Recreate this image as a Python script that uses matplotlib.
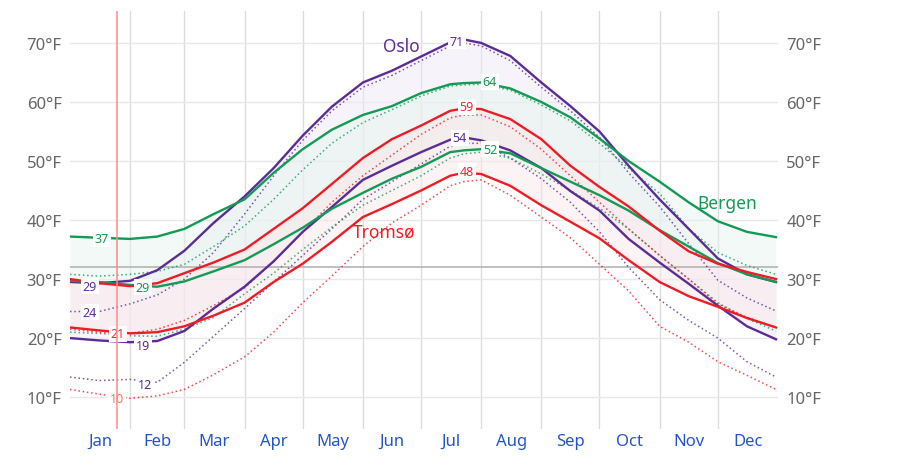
import numpy as np
import matplotlib
matplotlib.use('agg')
import matplotlib.pyplot as plt

plt.rcParams['font.family'] = ['Noto Sans', 'DejaVu Sans']

# day of year (0 = Jan 1) at which the values were read
days = [0, 15, 31, 45, 59, 74, 90, 105, 120, 135, 151, 166, 181, 196, 203, 212,
        227, 243, 258, 273, 288, 304, 319, 334, 349, 364]

# Oslo
oslo_high = [29.5, 29.3, 29.7, 31.5, 34.8, 39.5, 44.0, 48.8, 54.3, 59.2, 63.3, 65.3, 67.7,
             70.1, 70.6, 70.0, 67.8, 63.3, 59.3, 55.0, 49.2, 43.5, 38.5, 33.5, 30.8, 29.5]
oslo_low = [20.0, 19.6, 19.3, 19.5, 21.2, 25.0, 28.7, 33.0, 38.0, 42.2, 46.8, 49.2, 51.5,
            53.6, 54.0, 53.5, 51.8, 48.8, 44.9, 41.6, 36.8, 32.8, 29.2, 25.5, 22.0, 19.8]
oslo_feel_high = [24.5, 24.5, 25.8, 27.3, 30.0, 34.5, 41.0, 47.5, 53.5, 58.5, 62.5, 64.5, 67.0,
                  69.5, 70.0, 69.5, 67.0, 62.5, 58.5, 54.0, 48.0, 42.3, 36.0, 29.8, 26.8, 24.6]
oslo_feel_low = [13.4, 12.8, 13.0, 12.5, 15.9, 20.3, 25.0, 29.5, 34.0, 38.5, 43.5, 46.5, 49.5,
                 52.5, 53.0, 53.0, 50.5, 47.0, 43.0, 38.0, 32.0, 26.5, 23.0, 20.0, 16.0, 13.4]

# Bergen
bergen_high = [37.2, 37.0, 36.8, 37.2, 38.5, 41.0, 43.5, 48.0, 52.0, 55.3, 57.8, 59.3, 61.5,
               63.0, 63.2, 63.3, 62.3, 60.0, 57.4, 53.8, 50.0, 46.5, 43.0, 39.8, 38.0, 37.1]
bergen_low = [29.7, 29.5, 29.0, 28.7, 29.6, 31.3, 33.2, 35.9, 38.7, 41.9, 44.6, 47.0, 49.0,
              51.5, 51.8, 52.0, 51.3, 48.8, 46.5, 44.2, 41.6, 38.3, 35.5, 32.7, 30.8, 29.5]
bergen_feel_high = [30.8, 30.5, 30.8, 31.3, 32.5, 35.5, 39.0, 43.5, 48.5, 53.0, 56.5, 58.7, 61.0,
                    62.7, 62.9, 63.0, 62.0, 59.5, 56.8, 53.0, 48.8, 44.5, 38.5, 34.5, 32.3, 30.8]
bergen_feel_low = [21.0, 20.8, 20.4, 20.3, 21.5, 23.5, 27.5, 31.0, 35.0, 38.8, 42.5, 45.0, 47.5,
                   50.5, 51.2, 51.5, 50.5, 47.8, 45.0, 42.0, 38.5, 34.0, 30.0, 26.0, 23.3, 21.2]

# Tromsø
tromso_high = [30.0, 29.3, 28.8, 29.3, 31.0, 32.8, 35.0, 38.5, 42.0, 46.1, 50.5, 53.7, 56.0,
               58.5, 58.9, 58.8, 57.1, 53.7, 49.2, 45.6, 42.3, 38.2, 34.7, 32.6, 31.2, 30.0]
tromso_low = [21.8, 21.3, 20.8, 21.0, 22.0, 23.8, 26.0, 29.5, 32.6, 36.3, 40.5, 42.7, 45.0,
              47.5, 48.0, 47.8, 45.8, 42.5, 39.7, 36.9, 33.2, 29.5, 27.1, 25.3, 23.4, 21.8]
tromso_feel_high = [21.5, 21.0, 20.8, 21.5, 23.0, 25.5, 28.5, 33.0, 38.0, 43.0, 47.5, 51.0, 54.5,
                    57.3, 57.8, 57.8, 55.8, 52.0, 47.5, 43.0, 38.5, 34.0, 30.0, 25.8, 23.5, 21.8]
tromso_feel_low = [11.3, 10.5, 9.8, 10.2, 11.3, 13.8, 16.8, 21.0, 26.0, 30.5, 35.5, 39.5, 42.5,
                   45.8, 46.5, 46.8, 44.2, 40.5, 37.0, 32.5, 28.0, 22.0, 19.3, 16.0, 13.7, 11.3]

months = ['Jan', 'Feb', 'Mar', 'Apr', 'May', 'Jun', 'Jul', 'Aug', 'Sep', 'Oct', 'Nov', 'Dec']
month_starts = [0, 31, 59, 90, 120, 151, 181, 212, 243, 273, 304, 334, 365]

# value labels: text, day, temp, colour
value_labels = [('71', 199.5, 70.3, '#5b2d94'), ('64', 216.5, 63.4, '#139a55'),
                ('59', 204.6, 59.2, '#ee2a2f'), ('54', 201, 53.9, '#5b2d94'),
                ('52', 216.5, 52.0, '#139a55'), ('48', 204.6, 48.3, '#ee2a2f'),
                ('37', 16.5, 36.8, '#139a55'), ('29', 10.3, 28.8, '#5b2d94'),
                ('29', 37.6, 28.6, '#139a55'), ('24', 10.3, 24.4, '#5b2d94'),
                ('21', 24.7, 20.7, '#ee2a2f'), ('19', 37.6, 18.8, '#5b2d94'),
                ('12', 38.7, 12.2, '#5b2d94'), ('10', 24.2, 9.7, '#f5794f')]

today = 24.2

cities = [
    ('Oslo', '#5b2d94', '#efeaf7', oslo_high, oslo_low, oslo_feel_high, oslo_feel_low, (171, 69.4)),
    ('Bergen', '#139a55', '#e6f4ee', bergen_high, bergen_low, bergen_feel_high, bergen_feel_low, (338.7, 42.9)),
    ('Tromsø', '#ee1c24', '#fbe8ea', tromso_high, tromso_low, tromso_feel_high, tromso_feel_low, (162, 38.1)),
]

fig = plt.figure(figsize=(9.03, 4.60), dpi=100)
ax = fig.add_axes([0.0775, 0.065, 0.784, 0.909])

x = np.array(days)

for name, col, fill, hi, lo, fhi, flo, pos in cities:
    ax.fill_between(x, lo, hi, color=fill, alpha=0.5, lw=0, zorder=1)

for name, col, fill, hi, lo, fhi, flo, pos in cities:
    ax.plot(x, fhi, color=col, lw=1.1, ls=(0, (1, 1.8)), alpha=0.8, zorder=3)
    ax.plot(x, flo, color=col, lw=1.1, ls=(0, (1, 1.8)), alpha=0.8, zorder=3)

for name, col, fill, hi, lo, fhi, flo, pos in cities:
    ax.plot(x, hi, color=col, lw=1.7, zorder=4)
    ax.plot(x, lo, color=col, lw=1.7, zorder=4)
    ax.text(pos[0], pos[1], name, color=col, fontsize=12.5, ha='center', va='center', zorder=6)

for txt, d, t, col in value_labels:
    ax.text(d, t, txt, color=col, fontsize=9, ha='center', va='center', zorder=5,
            bbox=dict(facecolor='white', edgecolor='none', pad=1.2))

# freezing line and today marker
ax.axhline(32, color='#b4b4b4', lw=1.2, zorder=2)
ax.axvline(today, color='#ff8a8a', lw=1.1, zorder=5)

for m in month_starts[1:-1]:
    ax.axvline(m, color='#dcdcdc', lw=1, zorder=0)
ax.yaxis.grid(True, color='#e8e8e8', lw=1)
ax.set_axisbelow(True)

ax.set_xlim(0, 365)
ax.set_ylim(4.58, 75.42)
ax.set_yticks([10, 20, 30, 40, 50, 60, 70])
ax.set_yticklabels([f'{v}°F' for v in [10, 20, 30, 40, 50, 60, 70]])
ax.tick_params(axis='y', length=0, labelsize=12, labelcolor='#666666', pad=6,
               labelleft=True, labelright=True)

mids = [(a + b) / 2 for a, b in zip(month_starts[:-1], month_starts[1:])]
ax.set_xticks(mids)
ax.set_xticklabels(months)
ax.tick_params(axis='x', length=0, labelsize=12, labelcolor='#2455c8', pad=3)

for s in ax.spines.values():
    s.set_visible(False)

fig.savefig('out.png', dpi=100)
